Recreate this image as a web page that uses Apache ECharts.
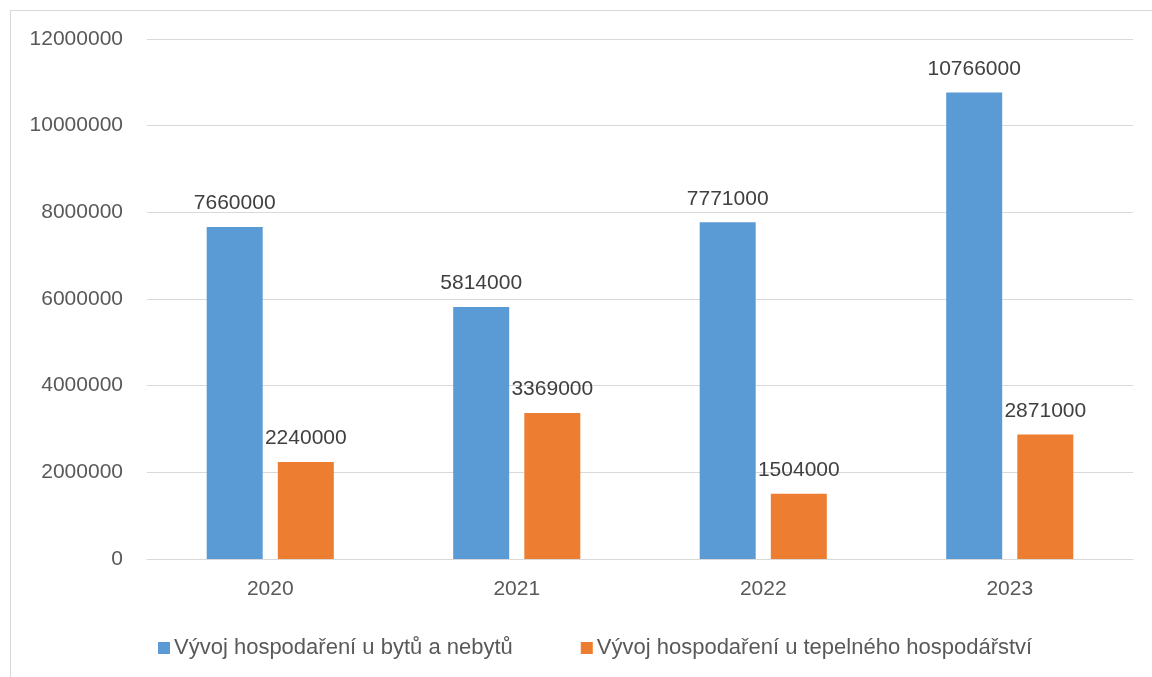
<!DOCTYPE html>
<html>
<head>
<meta charset="utf-8">
<script src="https://cdn.jsdelivr.net/npm/echarts@6/dist/echarts.min.js"></script>
<style>
html,body{margin:0;padding:0;background:#fff;}
#frame{position:absolute;left:10px;top:10px;width:1160px;height:700px;border:1px solid #D9D9D9;box-sizing:border-box;}
#chart{position:absolute;left:0;top:0;width:1152px;height:677px;}
</style>
</head>
<body>
<div id="frame"></div>
<div id="chart"></div>
<script>
const categories = ['2020', '2021', '2022', '2023'];
const seriesNames = ['Vývoj hospodaření u bytů a nebytů', 'Vývoj hospodaření u tepelného hospodářství'];
const bytyValues = [7660000, 5814000, 7771000, 10766000];
const teploValues = [2240000, 3369000, 1504000, 2871000];
const yTicks = { min: 0, max: 12000000, interval: 2000000 };

const font = 'Liberation Sans, Arial, sans-serif';
const textColor = '#595959';
const chart = echarts.init(document.getElementById('chart'), null, { renderer: 'canvas' });
const labelOpt = { show: true, position: 'top', distance: 13, color: '#404040', fontSize: 21, fontFamily: font };
chart.setOption({
  animation: false,
  backgroundColor: 'transparent',
  grid: { left: 147, right: 19, top: 39, bottom: 118, containLabel: false },
  legend: {
    top: 632, left: 153,
    itemWidth: 12, itemHeight: 12, itemGap: 68,
    icon: 'rect',
    textStyle: { color: textColor, fontSize: 22, fontFamily: font, padding: [0, 0, 0, -1] },
    data: seriesNames
  },
  xAxis: {
    type: 'category', data: categories,
    axisLine: { show: true, lineStyle: { color: '#D9D9D9', width: 1 } },
    axisTick: { show: false },
    axisLabel: { color: textColor, fontSize: 21, fontFamily: font, margin: 20 }
  },
  yAxis: {
    type: 'value', min: yTicks.min, max: yTicks.max, interval: yTicks.interval,
    axisLine: { show: false }, axisTick: { show: false },
    splitLine: { lineStyle: { color: '#D9D9D9', width: 1 } },
    axisLabel: { color: textColor, fontSize: 21, fontFamily: font, margin: 24, formatter: v => String(v) }
  },
  series: [
    { name: seriesNames[0], type: 'bar', data: bytyValues, barWidth: 56, barGap: '27%',
      itemStyle: { color: '#5B9BD5' }, label: labelOpt },
    { name: seriesNames[1], type: 'bar', data: teploValues, barWidth: 56, barGap: '27%',
      itemStyle: { color: '#ED7D31' }, label: labelOpt }
  ]
});
</script>
</body>
</html>
